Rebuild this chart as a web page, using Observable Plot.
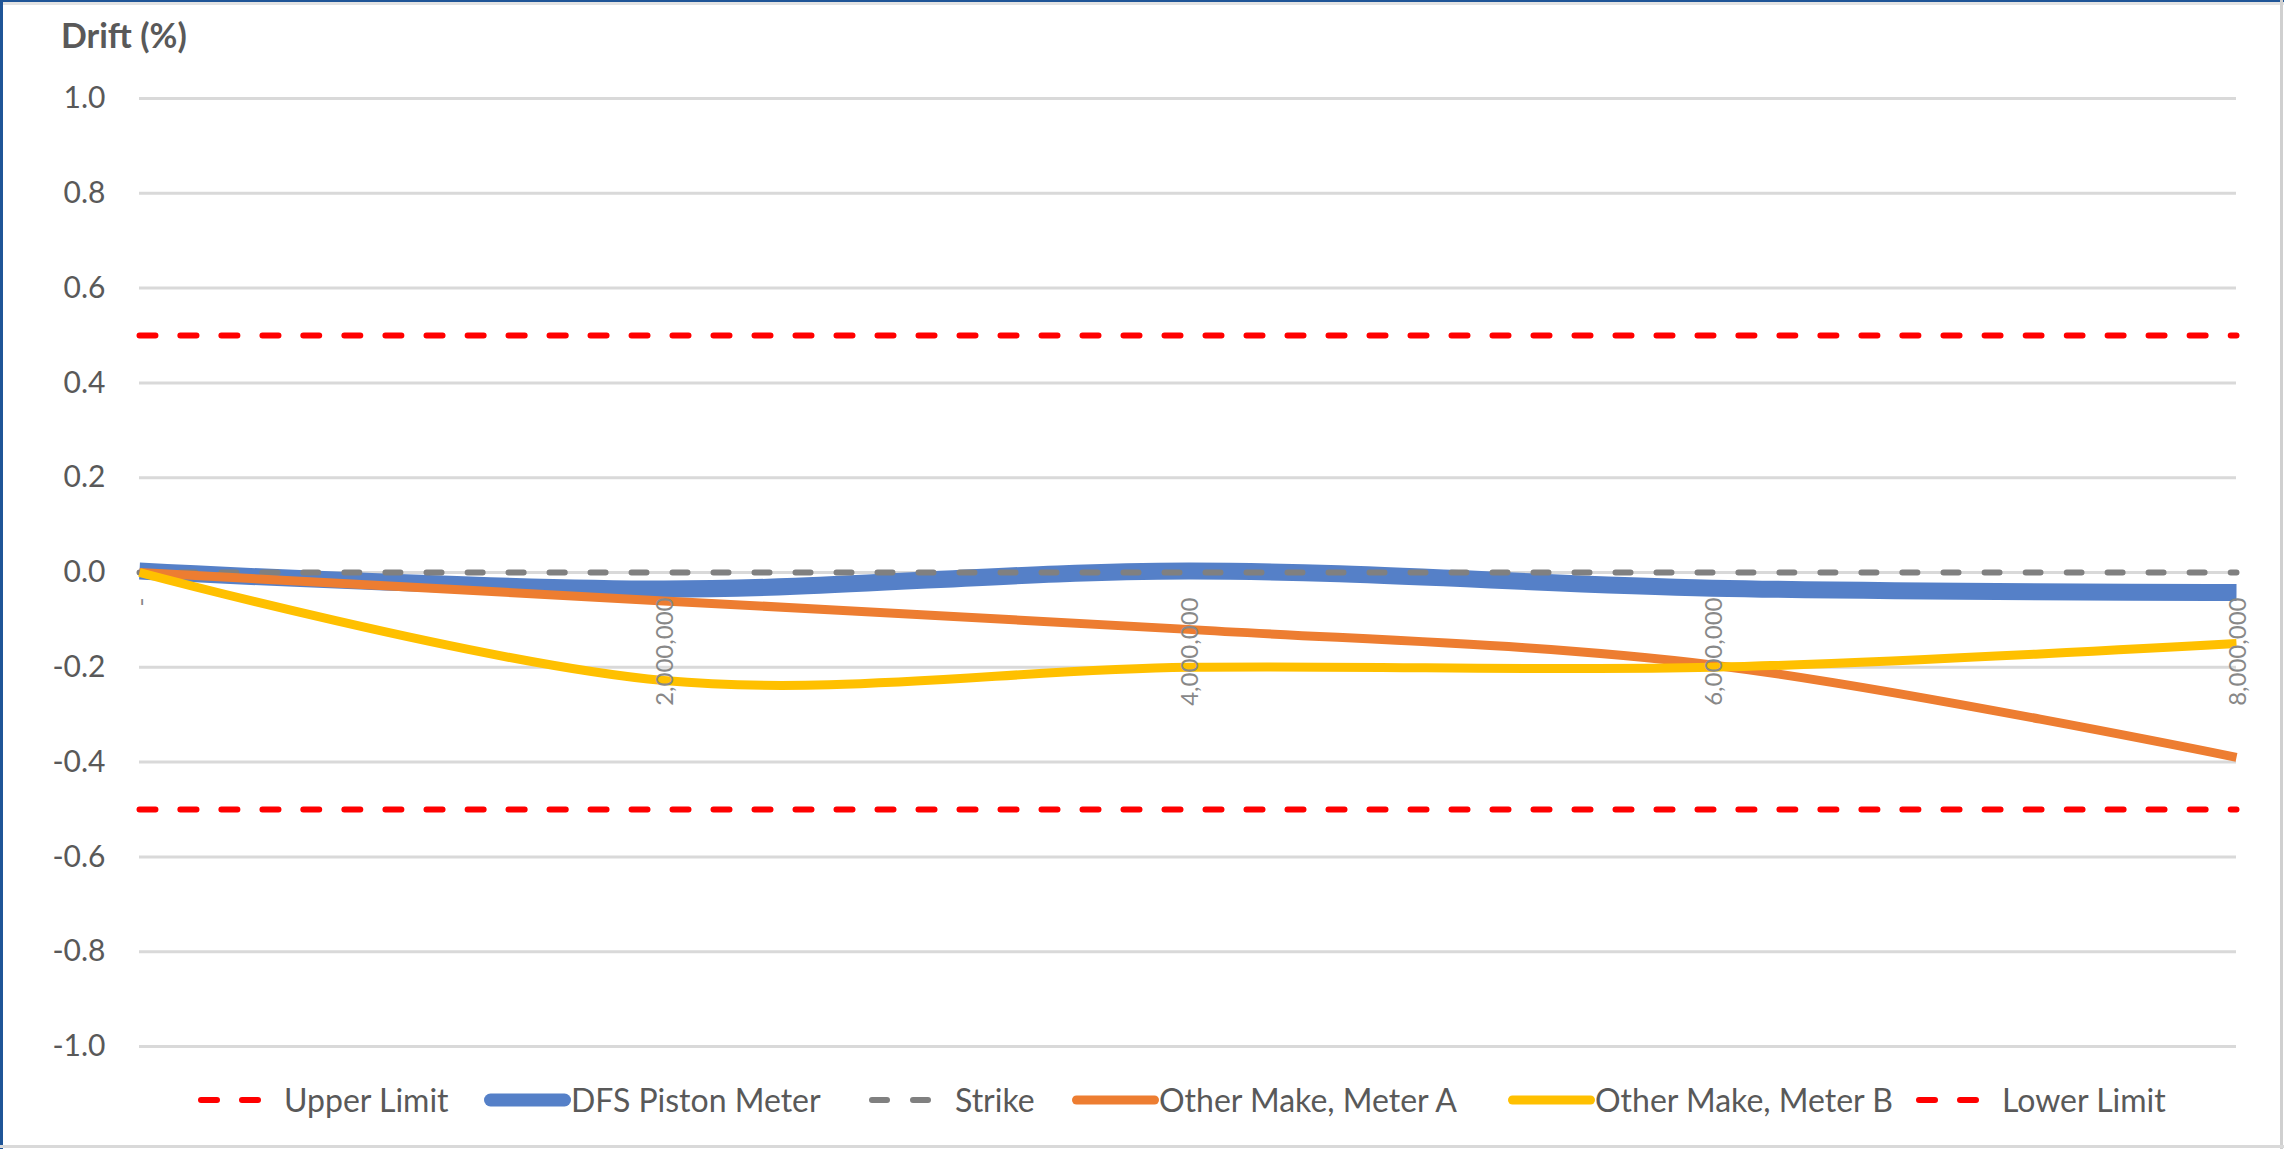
<!DOCTYPE html>
<html>
<head>
<meta charset="utf-8">
<script src="https://cdn.jsdelivr.net/npm/d3@7"></script>
<script src="https://cdn.jsdelivr.net/npm/@observablehq/plot@0.6"></script>
<style>
  html, body { margin: 0; padding: 0; background: #fff; }
  #chart { position: relative; width: 2284px; height: 1149px; overflow: hidden; background: #fff;
           font-family: Lato, "Open Sans", sans-serif; color: #595959; }
  .edge { position: absolute; }
  #title { position: absolute; left: 61px; top: 18px; font-size: 34px; line-height: 34px; font-weight: 700; color: #595959; }
  #plot { position: absolute; left: 0; top: 60px; }
  .leg { position: absolute; top: 1080px; height: 40px; display: flex; align-items: center; white-space: nowrap; }
  .leg span { font-size: 32px; line-height: 32px; color: #595959; }
  .leg svg { display: block; }
</style>
</head>
<body>
<div id="chart">
  <div id="title">Drift (%)</div>
  <div id="plot"></div>
</div>
<script>
// ---- data ----
const volumes = [0, 2000000, 4000000, 6000000, 8000000];
const seriesNames = ["Upper Limit", "DFS Piston Meter", "Strike", "Other Make, Meter A", "Other Make, Meter B", "Lower Limit"];
const upperLimit = [0.5, 0.5, 0.5, 0.5, 0.5];
const dfsPiston  = [0.003, -0.035, 0.003, -0.033, -0.042];
const strike     = [0, 0, 0, 0, 0];
const meterA     = [0.0, -0.06, -0.12, -0.195, -0.39];
const meterB     = [0.0, -0.228, -0.2, -0.2, -0.15];
const lowerLimit = [-0.5, -0.5, -0.5, -0.5, -0.5];
const yTicks = [-1.0, -0.8, -0.6, -0.4, -0.2, 0.0, 0.2, 0.4, 0.6, 0.8, 1.0];
const xTicks = [0, 2000000, 4000000, 6000000, 8000000];
const xTickLabels = ["-", "2,000,000", "4,000,000", "6,000,000", "8,000,000"];

// ---- styles ----
const seriesValues = [upperLimit, dfsPiston, strike, meterA, meterB, lowerLimit];
const seriesStyle = [
  {stroke: "#FF0000", width: 6, dash: "16,25"},
  {stroke: "#5580C8", width: 17, dash: null},
  {stroke: "#808080", width: 6, dash: "15,26"},
  {stroke: "#ED7D31", width: 9, dash: null},
  {stroke: "#FFC000", width: 9, dash: null},
  {stroke: "#FF0000", width: 6, dash: "16,25"}
];

const rows = seriesNames.map((name, s) => volumes.map((v, i) => ({series: name, volume: v, drift: seriesValues[s][i]})));

const marks = [
  Plot.ruleY(yTicks, {stroke: "#d9d9d9", strokeWidth: 3})
];
rows.forEach((data, s) => {
  const st = seriesStyle[s];
  const opts = {x: "volume", y: "drift", curve: "catmull-rom", stroke: st.stroke, strokeWidth: st.width,
                strokeLinecap: st.dash ? "round" : "butt", strokeLinejoin: "round"};
  if (st.dash) opts.strokeDasharray = st.dash;
  marks.push(Plot.line(data, opts));
});
marks.push(Plot.text(xTicks, {
  x: d => d, y: () => 0, text: (d, i) => xTickLabels[i],
  rotate: -90, textAnchor: "end", dy: 25, dx: 2,
  fill: "#888888", fontSize: 24, fontFamily: "Lato, sans-serif"
}));
marks.push(Plot.axisY(yTicks, {
  tickSize: 0, tickPadding: 34, tickFormat: d => d.toFixed(1),
  fontSize: 30, fill: "#595959", label: null
}));

const chart = Plot.plot({
  width: 2284, height: 1010,
  marginTop: 38, marginBottom: 24, marginLeft: 139, marginRight: 48,
  x: {domain: [0, 8000000], axis: null},
  y: {domain: [-1, 1], axis: null},
  style: {fontFamily: "Lato, sans-serif", fontSize: "30px", color: "#595959", background: "transparent", overflow: "visible"},
  marks
});
document.getElementById("plot").appendChild(chart);

// ---- legend (HTML, below the SVG) ----
const legendLeft = [197, 484, 868, 1072, 1508, 1915];
const root = document.getElementById("chart");
seriesNames.forEach((name, s) => {
  const st = seriesStyle[s];
  const item = document.createElement("div");
  item.className = "leg";
  item.style.left = legendLeft[s] + "px";
  const svg = d3.create("svg").attr("width", 87).attr("height", 40);
  if (st.dash) {
    svg.append("line").attr("x1", 4).attr("x2", 64).attr("y1", 20).attr("y2", 20)
      .attr("stroke", st.stroke).attr("stroke-width", st.width).attr("stroke-linecap", "round")
      .attr("stroke-dasharray", st.dash);
  } else {
    const w = Math.min(st.width, 13);
    svg.append("line").attr("x1", w / 2).attr("x2", 87 - w / 2).attr("y1", 20).attr("y2", 20)
      .attr("stroke", st.stroke).attr("stroke-width", w).attr("stroke-linecap", "round");
  }
  item.appendChild(svg.node());
  const span = document.createElement("span");
  span.textContent = name;
  item.appendChild(span);
  root.appendChild(item);
});

// ---- frame edges ----
function edge(css) { const e = document.createElement("div"); e.className = "edge"; Object.assign(e.style, css); root.appendChild(e); }
edge({left: "0px", top: "2px", width: "2284px", height: "3px", background: "#e3e3e3"});
edge({left: "0px", top: "0px", width: "2284px", height: "2px", background: "#1f5597"});
edge({left: "0px", top: "0px", width: "3px", height: "1149px", background: "#1f5597"});
edge({right: "1px", top: "0px", width: "3px", height: "1149px", background: "#d0d0d0"});
edge({left: "0px", bottom: "1px", width: "2284px", height: "3px", background: "#d9d9d9"});
</script>
</body>
</html>
